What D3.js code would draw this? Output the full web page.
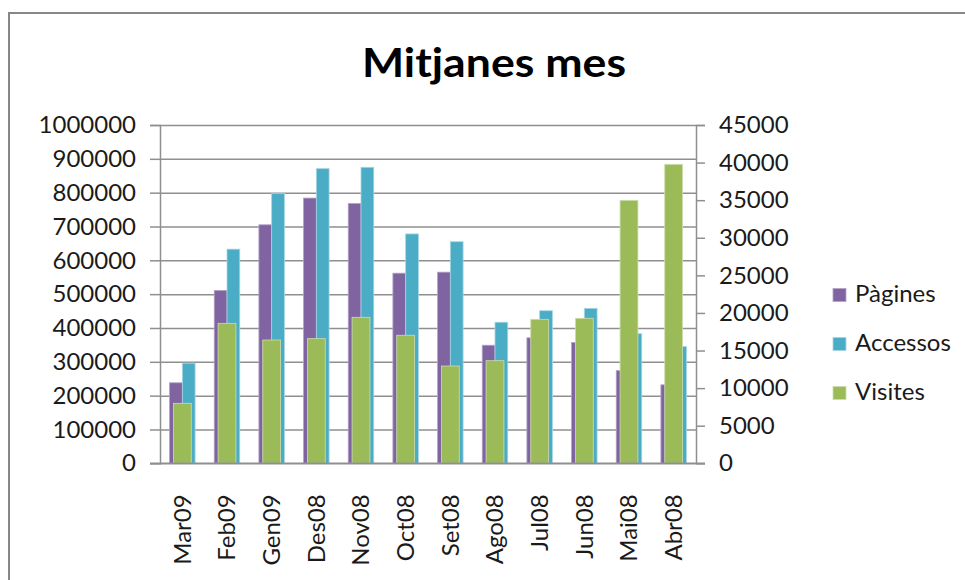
<!DOCTYPE html>
<html>
<head>
<meta charset="utf-8">
<script src="https://cdn.jsdelivr.net/npm/d3@7"></script>
<style>
  body { margin: 0; background: #fff; }
  svg { display: block; font-family: Lato, "Open Sans", sans-serif; }
</style>
</head>
<body>
<div id="chart"></div>
<script>
const months = ["Mar09", "Feb09", "Gen09", "Des08", "Nov08", "Oct08", "Set08", "Ago08", "Jul08", "Jun08", "Mai08", "Abr08"];
const pagines = [238000, 511000, 705000, 784000, 768000, 562000, 565000, 349000, 371000, 357000, 274000, 232000];
const accessos = [296000, 633000, 798000, 871000, 875000, 678000, 655000, 417000, 451000, 458000, 383000, 345000];
const visites = [7980, 18620, 16400, 16580, 19420, 17030, 12940, 13650, 19150, 19290, 34980, 39770];
const leftTicks = d3.range(0, 1000001, 100000);
const rightTicks = d3.range(0, 45001, 5000);

const series = [
  { label: "Pàgines", values: pagines, color: "#8064A2", edge: "#b3a2c7" },
  { label: "Accessos", values: accessos, color: "#4BACC6", edge: "#a5d6e3" },
  { label: "Visites", values: visites, color: "#9BBB59", edge: "#cddcae" },
];

const width = 965,
  height = 580;
const plot = { left: 160, right: 696, top: 125, bottom: 463.3 };
const fontSize = "24px";

const svg = d3
  .select("#chart")
  .append("svg")
  .attr("width", width)
  .attr("height", height);

// chart frame (only left and top edges are visible)
svg
  .append("rect")
  .attr("x", 9)
  .attr("y", 13)
  .attr("width", width + 20)
  .attr("height", height + 20)
  .attr("fill", "#fff")
  .attr("stroke", "#878787")
  .attr("stroke-width", 2);

svg
  .append("text")
  .attr("x", 494)
  .attr("y", 76.5)
  .attr("text-anchor", "middle")
  .attr("font-size", "40px")
  .attr("font-weight", "bold")
  .attr("fill", "#000")
  .attr("textLength", 264)
  .attr("lengthAdjust", "spacingAndGlyphs")
  .text("Mitjanes mes");

const x = d3.scaleBand().domain(months).range([plot.left, plot.right]);
const x1 = d3
  .scaleBand()
  .domain([0, 1])
  .range([0, x.bandwidth()])
  .paddingOuter(0.75);
const x2 = d3
  .scaleBand()
  .domain([0])
  .range([0, x.bandwidth()])
  .paddingOuter(0.75);
const yL = d3.scaleLinear().domain([0, 1000000]).range([plot.bottom, plot.top]);
const yR = d3.scaleLinear().domain([0, 45000]).range([plot.bottom, plot.top]);

// gridlines
svg
  .append("g")
  .attr("transform", `translate(${plot.left},0)`)
  .call(
    d3.axisLeft(yL).tickValues(leftTicks).tickSizeInner(-(plot.right - plot.left)).tickSizeOuter(0).tickFormat("")
  )
  .call((g) => g.select(".domain").remove())
  .call((g) => g.selectAll("line").attr("stroke", "#8f8f8f").attr("stroke-width", 1.5));

// primary bars
series.slice(0, 2).forEach((s, i) => {
  svg
    .append("g")
    .selectAll("rect")
    .data(s.values)
    .join("rect")
    .attr("x", (d, j) => x(months[j]) + x1(i))
    .attr("y", (d) => yL(d))
    .attr("width", x1.bandwidth())
    .attr("height", (d) => yL(0) - yL(d))
    .attr("fill", s.color)
    .attr("stroke", s.edge)
    .attr("stroke-width", 0.8);
});

// secondary bars
const v = series[2];
svg
  .append("g")
  .selectAll("rect")
  .data(v.values)
  .join("rect")
  .attr("x", (d, j) => x(months[j]) + x2(0))
  .attr("y", (d) => yR(d))
  .attr("width", x2.bandwidth())
  .attr("height", (d) => yR(0) - yR(d))
  .attr("fill", v.color)
  .attr("stroke", v.edge)
  .attr("stroke-width", 0.8);

const styleAxis = (g) => {
  g.select(".domain").attr("stroke", "#8f8f8f").attr("stroke-width", 1.5);
  g.selectAll(".tick line").attr("stroke", "#8f8f8f").attr("stroke-width", 1.5);
  g.selectAll("text").attr("fill", "#1a1a1a").attr("font-size", fontSize).attr("font-family", "Lato, sans-serif");
};

svg
  .append("g")
  .attr("transform", `translate(${plot.left},0)`)
  .call(d3.axisLeft(yL).tickValues(leftTicks).tickSize(10).tickPadding(14).tickFormat(d3.format("d")))
  .call(styleAxis);

svg
  .append("g")
  .attr("transform", `translate(${plot.right},0)`)
  .call(d3.axisRight(yR).tickValues(rightTicks).tickSize(9).tickPadding(14).tickFormat(d3.format("d")))
  .call(styleAxis);

// category axis
svg
  .append("g")
  .attr("transform", `translate(0,${plot.bottom})`)
  .call(d3.axisBottom(x).tickSize(0).tickPadding(0))
  .call((g) => {
    g.select(".domain").attr("d", `M${plot.left - 10},0H${plot.right + 9}`).attr("stroke", "#8f8f8f").attr("stroke-width", 1.5);
    g.selectAll("text")
      .attr("fill", "#1a1a1a")
      .attr("font-size", fontSize)
      .attr("font-family", "Lato, sans-serif")
      .attr("text-anchor", "end")
      .attr("transform", "translate(0,31) rotate(-90)")
      .attr("y", 0)
      .attr("x", 0)
      .attr("dy", "0.35em");
  });

// legend
const legend = svg
  .append("g")
  .selectAll("g")
  .data(series)
  .join("g")
  .attr("transform", (d, i) => `translate(833,${301.5 + i * 49})`);
legend
  .append("rect")
  .attr("x", 0)
  .attr("y", -13)
  .attr("width", 13)
  .attr("height", 13)
  .attr("fill", (d) => d.color)
  .attr("stroke", (d) => d.edge)
  .attr("stroke-width", 0.8);
legend
  .append("text")
  .attr("x", 22)
  .attr("y", 0)
  .attr("font-size", fontSize)
  .attr("fill", "#1a1a1a")
  .text((d) => d.label);
</script>
</body>
</html>
